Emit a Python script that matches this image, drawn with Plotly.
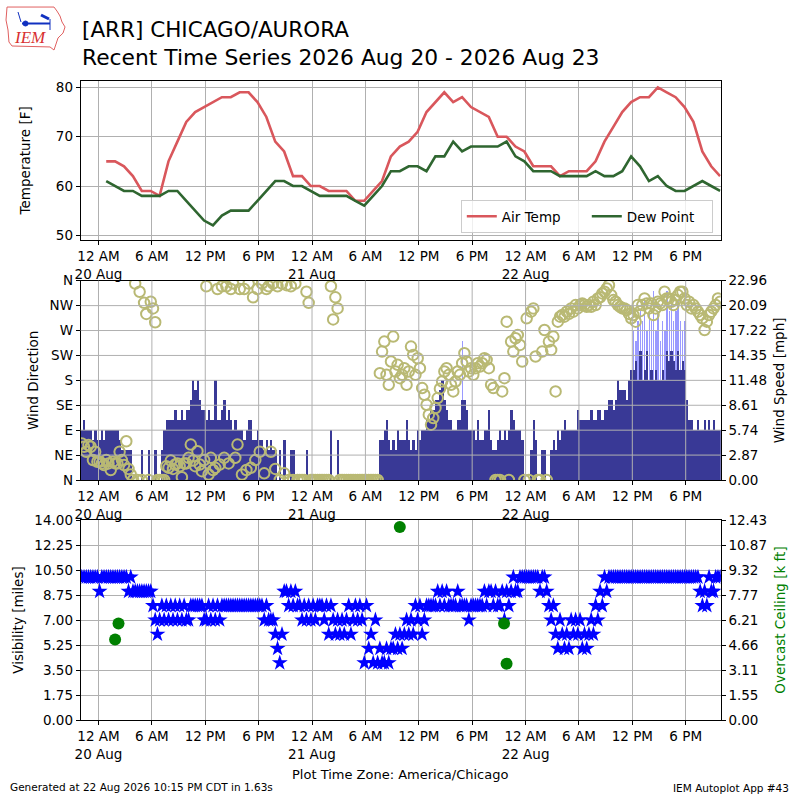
import pandas as pd
import plotly.graph_objects as go

# hourly observations (F), first report 00:52 CDT 20 Aug
air_temp = [65, 65, 64, 62, 59, 59, 58, 65, 69, 73, 75, 76, 77, 78, 78, 79, 79, 77, 74, 69,
            67, 62, 62, 60, 60, 59, 59, 59, 57, 57, 59, 61, 66, 68, 69, 71, 75, 77, 79, 77,
            78, 76, 75, 74, 70, 70, 68, 67, 64, 64, 64, 62, 63, 63, 63, 65, 69, 72, 75, 77,
            78, 78, 80, 79, 78, 76, 73, 67, 64, 62]
dew_point = [61, 60, 59, 59, 58, 58, 58, 59, 59, 57, 55, 53, 52, 54, 55, 55, 55, 57, 59, 61,
             61, 60, 60, 59, 58, 58, 58, 58, 57, 56, 58, 60, 63, 63, 64, 64, 63, 66, 66, 69,
             67, 68, 68, 68, 68, 69, 66, 65, 63, 63, 63, 62, 62, 62, 62, 63, 62, 62, 63, 66,
             64, 61, 62, 60, 59, 59, 60, 61, 60, 59]

# 15 minute bins from 22:00 CDT 19 Aug, 4 hours per row
wind_mph = [
    5.75, 6.9, 5.75, 5.75, 5.75, 4.6, 5.75, 4.6, 4.6, 5.75, 4.6, 5.75, 5.75, 5.75, 5.75, 5.75,
    5.75, 4.6, 3.45, 3.45, 3.45, 3.45, 3.45, 0, 0, 0, 0, 3.45, 0, 0, 3.45, 0,
    0, 3.45, 0, 0, 3.45, 5.75, 6.9, 6.9, 6.9, 6.9, 8.05, 6.9, 6.9, 8.05, 6.9, 8.05,
    8.05, 9.2, 11.5, 10.35, 11.5, 9.2, 8.05, 8.05, 6.9, 8.05, 6.9, 6.9, 11.5, 6.9, 6.9, 8.05,
    9.2, 6.9, 8.05, 6.9, 5.75, 6.9, 5.75, 5.75, 5.75, 4.6, 5.75, 6.9, 6.9, 4.6, 4.6, 5.75,
    4.6, 4.6, 3.45, 4.6, 3.45, 4.6, 3.45, 3.45, 0, 3.45, 0, 4.6, 0, 0, 3.45, 3.45,
    0, 0, 0, 0, 0, 3.45, 0, 0, 0, 0, 0, 0, 0, 0, 0, 0,
    5.75, 0, 0, 4.6, 0, 0, 0, 0, 0, 0, 0, 0, 0, 0, 0, 0,
    0, 0, 0, 0, 0, 0, 4.6, 4.6, 5.75, 6.9, 4.6, 3.45, 4.6, 3.45, 5.75, 4.6,
    4.6, 4.6, 6.9, 4.6, 3.45, 4.6, 3.45, 5.75, 4.6, 5.75, 5.75, 6.9, 6.9, 8.05, 8.05, 9.2,
    9.2, 10.35, 11.5, 9.2, 8.05, 6.9, 6.9, 5.75, 5.75, 6.9, 6.9, 9.2, 9.2, 8.05, 5.75, 5.75,
    5.75, 4.6, 6.9, 4.6, 4.6, 5.75, 5.75, 8.05, 4.6, 3.45, 3.45, 4.6, 5.75, 4.6, 5.75, 4.6,
    5.75, 8.05, 6.9, 5.75, 5.75, 5.75, 4.6, 0, 0, 0, 3.45, 6.9, 4.6, 0, 0, 3.45,
    3.45, 0, 0, 3.45, 4.6, 3.45, 5.75, 4.6, 5.75, 6.9, 5.75, 5.75, 5.75, 5.75, 5.75, 8.05,
    6.9, 6.9, 6.9, 6.9, 6.9, 8.05, 6.9, 6.9, 8.05, 8.05, 6.9, 8.05, 8.05, 9.2, 9.2, 8.05,
    9.2, 11.5, 10.35, 10.35, 10.35, 9.2, 11.5, 12.65, 12.65, 13.8, 11.5, 14.95, 11.5, 12.65, 14.95, 11.5,
    12.65, 11.5, 12.65, 11.5, 11.5, 12.65, 11.5, 14.95, 13.8, 14.95, 13.8, 12.65, 14.95, 12.65, 13.8, 12.65,
    9.2, 6.9, 6.9, 5.75, 5.75, 6.9, 5.75, 5.75, 6.9, 5.75, 6.9, 5.75, 6.9, 5.75, 5.75, 5.75,
]
wind_dir = [
    66, 60, 51, 63, 60, 36, 51, 33, 33, 30, 27, 36, 30, 18, 33, 30,
    30, 51, 36, 27, 70, 20, 10, 0, 355, 0, 340, 0, 320, 300, 0, 322,
    310, 285, 0, 0, 0, 0, 25, 22, 35, 20, 28, 30, 25, 5, 30, 30,
    40, 64, 35, 25, 52, 28, 16, 36, 350, 10, 40, 18, 22, 345, 28, 350,
    40, 350, 30, 345, 355, 40, 64, 345, 10, 345, 18, 355, 22, 330, 36, 345,
    51, 355, 12, 345, 350, 51, 355, 20, 350, 0, 355, 12, 352, 0, 350, 0,
    355, 0, 0, 0, 0, 340, 320, 0, 0, 0, 0, 0, 0, 0, 0, 0,
    350, 290, 330, 310, 0, 0, 0, 0, 0, 0, 0, 0, 0, 0, 0, 0,
    0, 0, 0, 0, 0, 0, 193, 232, 250, 190, 172, 214, 259, 196, 208, 184,
    190, 202, 172, 196, 241, 226, 190, 220, 202, 166, 154, 136, 118, 100, 112, 130,
    148, 165, 178, 196, 202, 190, 172, 160, 178, 196, 190, 211, 229, 214, 196, 202,
    190, 202, 211, 205, 211, 220, 217, 202, 172, 166, 0, 0, 0, 160, 184, 286,
    0, 250, 232, 256, 262, 244, 214, 0, 292, 0, 304, 310, 223, 0, 0, 232,
    271, 0, 250, 235, 259, 160, 286, 295, 298, 295, 304, 300, 310, 304, 316, 310,
    316, 319, 316, 313, 316, 313, 322, 316, 328, 330, 337, 340, 346, 352, 334, 325,
    322, 316, 313, 310, 310, 307, 300, 292, 298, 286, 316, 305, 316, 328, 319, 310,
    319, 298, 310, 322, 319, 316, 340, 328, 328, 322, 316, 325, 334, 340, 340, 328,
    316, 322, 310, 316, 310, 304, 298, 292, 271, 286, 298, 304, 310, 316, 328, 322,
]
vis_miles = [
    10, 10, 10, 10, 10, 10, 10, 10, 9, 10, 10, 10, 10, 10, 10, 10,
    10, 10, 10, 10, 10, 9, 10, 9, 9, 9, 9, 9, 9, 9, 9, 9,
    8, 7, 6, 7, 8, 7, 8, 7, 8, 7, 8, 7, 8, 7, 8, 7,
    7, 8, 8, 8, 8, 8, 8, 7, 7, 8, 7, 8, 7, 8, 7, 8,
    8, 8, 8, 8, 8, 8, 8, 8, 8, 8, 8, 8, 8, 8, 8, 8,
    8, 8, 7, 8, 7, 7, 7, 6, 5, 4, 6, 9, 9, 8, 9, 8,
    9, 8, 8, 7, 8, 7, 8, 7, 8, 7, 8, 8, 8, 7, 8, 6,
    8, 7, 6, 7, 6, 7, 6, 7, 8, 6, 7, 8, 7, 8, 7, 4,
    8, 5, 6, 4, 7, 4, 5, 4, 4, 5, 4, 5, 5, 6, 5, 6,
    5, 6, 7, 6, 7, 6, 8, 7, 8, 6, 7, 8, 8, 8, 8, 8,
    9, 8, 9, 8, 9, 8, 8, 8, 8, 9, 8, 8, 8, 8, 7, 8,
    8, 8, 8, 8, 8, 9, 8, 9, 9, 8, 9, 8, 8, 9, 7, 9,
    8, 9, 10, 9, 9, 10, 10, 10, 10, 10, 10, 10, 10, 10, 9, 10,
    10, 9, 8, 7, 8, 6, 5, 7, 6, 5, 6, 5, 7, 6, 7, 6,
    7, 5, 6, 5, 6, 7, 6, 8, 7, 9, 8, 10, 9, 10, 10, 10,
    10, 10, 10, 10, 10, 10, 10, 10, 10, 10, 10, 10, 10, 10, 10, 10,
    10, 10, 10, 10, 10, 10, 10, 10, 10, 10, 10, 10, 10, 10, 10, 10,
    10, 10, 10, 10, 10, 10, 9, 8, 9, 8, 10, 9, 9, 10, 10, 10,
]

# gusts: one on 21 Aug, then the 22 Aug afternoon block of 15 minute bins
gust_first = ["2026-08-21 16:52"]
gust_block_start = "2026-08-22 12:07"
gust_mph = [16.1,
            17.25, 16.1, 18.4, 19.55, 18.4, 20.7, 17.25, 19.55, 18.4, 21.85, 17.25, 19.55,
            16.1, 18.4, 17.25, 21.85, 19.55, 20.7, 18.4, 19.55, 20.7, 18.4, 17.25, 18.4]

ceiling_time = ["2026-08-20 01:52", "2026-08-20 02:15", "2026-08-21 09:52",
                "2026-08-21 21:35", "2026-08-21 21:52"]
ceiling_kft = [5.0, 6.0, 12.0, 6.0, 3.5]

temp_times = pd.date_range("2026-08-20 00:52", periods=len(air_temp), freq="h")
bin_times = pd.date_range("2026-08-19 22:07:30", periods=len(wind_mph), freq="15min")
gust_times = pd.to_datetime(gust_first).append(
    pd.date_range(gust_block_start, periods=len(gust_mph) - 1, freq="15min"))

tick_times = pd.date_range("2026-08-20 00:00", periods=12, freq="6h")
tick_text = []
for t in tick_times:
    lab = t.strftime("%I %p").lstrip("0")
    if t.hour == 0:
        lab += "<br>" + t.strftime("%d %b")
    tick_text.append(lab)

X_RANGE = ["2026-08-19 22:00", "2026-08-22 21:56"]
X_DOM = [80.7 / 800, 720.7 / 800]
FONT = "DejaVu Sans"
GRID = "#b0b0b0"
TICKF = dict(size=13.5, color="black")


def px_y(y):
    return 1 - y / 800


fig = go.Figure()

# temperatures
fig.add_scatter(x=temp_times, y=air_temp, mode="lines", name="Air Temp",
                line=dict(color="#d9575c", width=2.6), xaxis="x", yaxis="y")
fig.add_scatter(x=temp_times, y=dew_point, mode="lines", name="Dew Point",
                line=dict(color="#2f6630", width=2.6), xaxis="x", yaxis="y")

# wind speed / gust bars, direction circles on top
fig.add_bar(x=gust_times, y=gust_mph, width=3 * 60 * 1000, marker_color="#9a9aff",
            marker_line_width=0, showlegend=False, xaxis="x2", yaxis="y2")
fig.add_bar(x=bin_times, y=wind_mph, width=15 * 60 * 1000, marker_color="#393996",
            marker_line_width=0, showlegend=False, xaxis="x2", yaxis="y2")
fig.add_scatter(x=bin_times, y=wind_dir, mode="markers", showlegend=False,
                marker=dict(symbol="circle-open", size=10.5, color="#b9b974",
                            line=dict(width=2, color="#b9b974")),
                xaxis="x2", yaxis="y4")

# visibility + ceiling
fig.add_scatter(x=bin_times, y=vis_miles, mode="markers", showlegend=False,
                marker=dict(symbol="star", size=12, color="#0000ff", line_width=0),
                xaxis="x3", yaxis="y3")
fig.add_scatter(x=pd.to_datetime(ceiling_time), y=ceiling_kft, mode="markers",
                showlegend=False, marker=dict(size=12, color="#008000"),
                xaxis="x3", yaxis="y5")

fig.update_layout(barmode="overlay", bargap=0)

base_ax = dict(showline=True, linecolor="black", linewidth=1, mirror=True,
               ticks="outside", ticklen=4, tickcolor="black", zeroline=False,
               gridcolor=GRID, gridwidth=1, tickfont=TICKF, automargin=False)
xax = dict(base_ax, type="date", range=X_RANGE, domain=X_DOM,
           tickvals=tick_times, ticktext=tick_text)

fig.update_layout(
    xaxis=dict(xax, anchor="y"),
    xaxis2=dict(xax, anchor="y2", showgrid=False),
    xaxis3=dict(xax, anchor="y3"),
    yaxis=dict(base_ax, domain=[px_y(240), px_y(80.7)], range=[49.05, 81.35],
               tickvals=[50, 60, 70, 80], anchor="x",
               title=dict(text="Temperature [F]", font=dict(size=13.5), standoff=22)),
    yaxis2=dict(base_ax, domain=[px_y(480), px_y(280.7)], range=[0, 22.96], side="right",
                anchor="x2", showgrid=False,
                tickvals=[i * 22.96 / 8 for i in range(9)], tickformat=".2f",
                title=dict(text="Wind Speed [mph]", font=dict(size=13.5), standoff=8)),
    yaxis4=dict(base_ax, overlaying="y2", side="left", anchor="x2", range=[0, 360],
                showgrid=False, tickvals=[0, 45, 90, 135, 180, 225, 270, 315, 360],
                ticktext=["N", "NE", "E", "SE", "S", "SW", "W", "NW", "N"],
                title=dict(text="Wind Direction", font=dict(size=13.5), standoff=7)),
    yaxis3=dict(base_ax, domain=[px_y(720), px_y(520)], range=[0, 14], anchor="x3",
                tickvals=[i * 1.75 for i in range(9)], tickformat=".2f",
                title=dict(text="Visibility [miles]", font=dict(size=13.5), standoff=7)),
    yaxis5=dict(base_ax, overlaying="y3", side="right", anchor="x3", range=[0, 12.428],
                showgrid=False, tickvals=[i * 12.428 / 8 for i in range(9)], tickformat=".2f",
                title=dict(text="Overcast Ceiling [k ft]", font=dict(size=13.5, color="#008000"),
                           standoff=9)),
)

# grid of the wind panel drawn over the bars
shapes = []
for d in [45, 90, 135, 180, 225, 270, 315]:
    shapes.append(dict(type="line", xref="x2 domain", yref="y4", x0=0, x1=1, y0=d, y1=d,
                       line=dict(color=GRID, width=1), layer="above"))
for t in tick_times:
    shapes.append(dict(type="line", xref="x2", yref="y2 domain", x0=t, x1=t, y0=0, y1=1,
                       line=dict(color=GRID, width=1), layer="above"))


# IEM logo, drawn roughly in pixel space
def lp(x, y):
    return f"{x / 800:.4f},{px_y(y):.4f}"


iowa = [(7, 7), (54, 7), (57, 11), (60, 16), (62, 22), (65, 27), (63, 33), (58, 38),
        (56, 44), (54, 50), (50, 47), (12, 46), (9, 42), (8, 30), (6, 20), (7, 7)]
fig_path = "M " + " L ".join(lp(x, y) for x, y in iowa) + " Z"
shapes.append(dict(type="path", xref="paper", yref="paper", path=fig_path,
                   line=dict(color="#e06060", width=1)))
shapes.append(dict(type="line", xref="paper", yref="paper", x0=22 / 800, x1=50 / 800,
                   y0=px_y(23.5), y1=px_y(23.5), line=dict(color="#1030c0", width=2)))
shapes.append(dict(type="line", xref="paper", yref="paper", x0=41 / 800, x1=49 / 800,
                   y0=px_y(15), y1=px_y(19), line=dict(color="#1030c0", width=3)))
shapes.append(dict(type="line", xref="paper", yref="paper", x0=50 / 800, x1=50 / 800,
                   y0=px_y(19), y1=px_y(30), line=dict(color="#1030c0", width=1)))
shapes.append(dict(type="line", xref="paper", yref="paper", x0=18 / 800, x1=21 / 800,
                   y0=px_y(12), y1=px_y(22), line=dict(color="#1030c0", width=1)))
shapes.append(dict(type="circle", xref="paper", yref="paper", x0=23 / 800, x1=28 / 800,
                   y0=px_y(26), y1=px_y(21), line=dict(color="#1030c0", width=1),
                   fillcolor="#1030c0"))
fig.update_layout(shapes=shapes)

annotations = [
    dict(text="<i>IEM</i>", x=30 / 800, y=px_y(37), xanchor="center",
         font=dict(family="Liberation Serif", size=17, color="#d83030")),
    dict(text="[ARR] CHICAGO/AURORA", x=80 / 800, y=px_y(30), xanchor="left",
         font=dict(size=21.5, color="black")),
    dict(text="Recent Time Series 2026 Aug 20 - 2026 Aug 23", x=80 / 800, y=px_y(57),
         xanchor="left", font=dict(size=21.8, color="black")),
    dict(text="Plot Time Zone: America/Chicago", x=0.5, y=px_y(774), xanchor="center",
         font=dict(size=13, color="black")),
    dict(text="Generated at 22 Aug 2026 10:15 PM CDT in 1.63s", x=8 / 800, y=px_y(787),
         xanchor="left", font=dict(size=10.5, color="black")),
    dict(text="IEM Autoplot App #43", x=791 / 800, y=px_y(788), xanchor="right",
         font=dict(size=10.5, color="black")),
]
for a in annotations:
    a.update(xref="paper", yref="paper", showarrow=False, yanchor="middle")
fig.update_layout(annotations=annotations)

fig.update_layout(
    width=800, height=800, margin=dict(l=0, r=0, t=0, b=0),
    paper_bgcolor="white", plot_bgcolor="white",
    font=dict(family=FONT, color="black", size=13.5),
    legend=dict(orientation="h", x=0.891, xanchor="right", y=px_y(233), yanchor="bottom",
                bgcolor="rgba(255,255,255,0.8)", bordercolor="#cccccc", borderwidth=1,
                font=dict(size=13.5), entrywidth=80, itemwidth=30),
)

# page body has a default 8px margin; drop it so the figure sits at 0,0
fig.write_html("out.html", config={"displayModeBar": False},
               post_script="document.body.style.margin = '0';")
